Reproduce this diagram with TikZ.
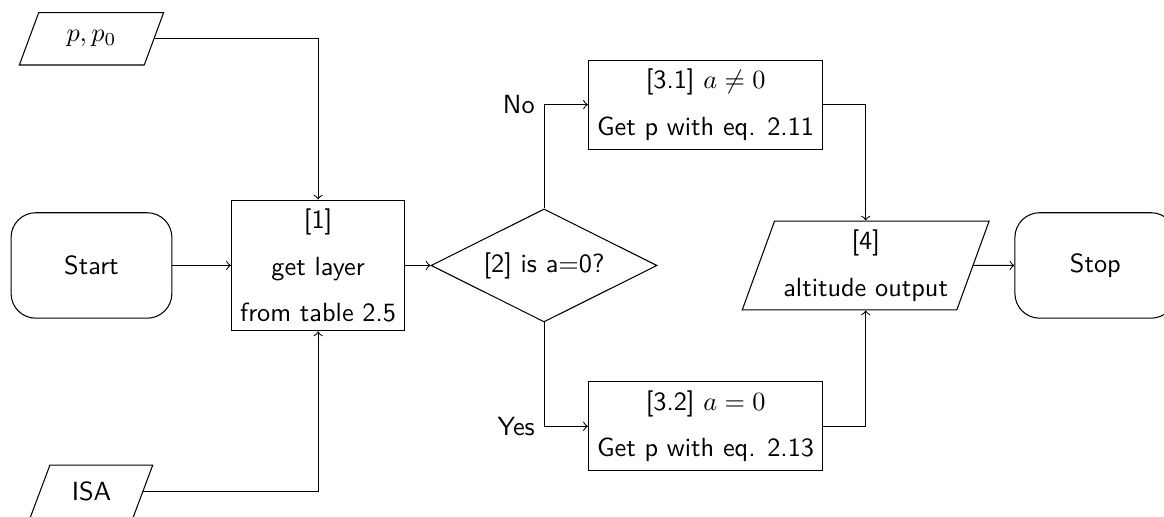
\documentclass[tikz,border=0pt]{standalone}
\usepackage{amsmath}
\usepackage{tikz}
\usetikzlibrary{shapes,arrows}
\usetikzlibrary{positioning}
\tikzstyle{line} = [draw, ->]

\begin{document}
\begin{tikzpicture}[font=\sffamily,
	box/.style={draw, rectangle, align=center},
	term/.style={draw, rectangle, rounded corners=0.33cm,
		minimum width=2.15cm, minimum height=1.41cm},
	io/.style={draw, trapezium, trapezium left angle=70,
		trapezium right angle=110, align=center},
	source/.style={io, trapezium stretches=true, minimum height=0.7cm},
	decision/.style={draw, diamond, aspect=2}]
	\useasboundingbox (-1.223,-3.362) rectangle (14.338,3.549);
	%% Blocks
	\node [term] at (0,0) (start) {Start};
	\node [source, minimum width=1.93cm] at (0,3.03) (input) {$p, p_0$};
	\node [source, minimum width=1.64cm] at (0,-3.02) (isa) {ISA};
	\node [box] at (3.03,0) (layer) {[1]\\[2mm] get layer\\[2mm] from table 2.5};
	\node [decision] at (6.05,0) (check) {[2] is a=0?};
	\node [box] at (8.21,2.15) (nonzero) {[3.1] $a \neq 0$\\[2mm] Get p with eq. 2.11};
	\node [box] at (8.21,-2.15) (zero) {[3.2] $a = 0$\\[2mm] Get p with eq. 2.13};
	\node [io] at (10.35,0) (output) {[4]\\[2mm] altitude output};
	\node [term] at (13.42,0) (stop) {Stop};
	%% Flows
	\path [line] (start) -- (layer);
	\path [line] (input) -| (layer);
	\path [line] (isa) -| (layer);
	\path [line] (layer) -- (check);
	\path [line] (check) |- node [midway, left] {No} (nonzero);
	\path [line] (check) |- node [midway, left] {Yes} (zero);
	\path [line] (nonzero) -| (output);
	\path [line] (zero) -| (output);
	\path [line] (output) -- (stop);
\end{tikzpicture}
\end{document}
